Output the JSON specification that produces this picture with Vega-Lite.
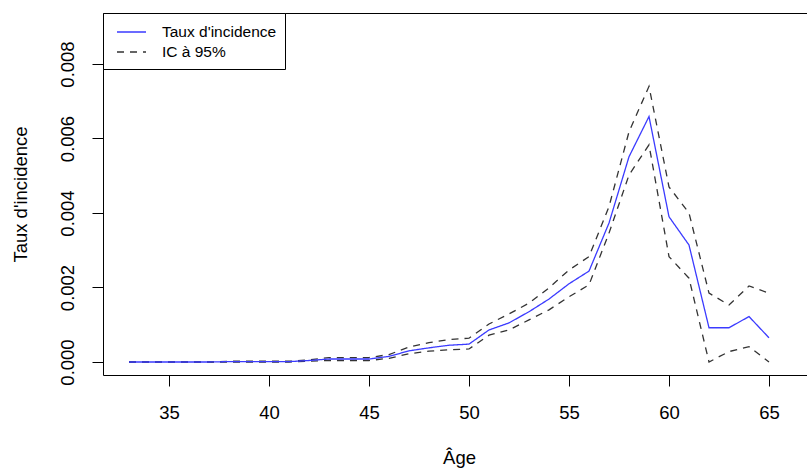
{
  "$schema": "https://vega.github.io/schema/vega-lite/v6.json",
  "autosize": {"type": "none"},
  "width": 706,
  "height": 362,
  "padding": {"left": 103, "top": 13, "right": 0, "bottom": 95},
  "background": "white",
  "config": {
    "font": "Liberation Sans",
    "view": {"stroke": "black", "strokeWidth": 1},
    "axis": {
      "domain": false,
      "grid": false,
      "tickColor": "black",
      "tickSize": 11,
      "tickWidth": 1,
      "labelColor": "black",
      "labelFont": "Liberation Sans",
      "labelFontSize": 18.5,
      "titleFont": "Liberation Sans",
      "titleFontSize": 18.5,
      "titleFontWeight": "normal",
      "titleColor": "black"
    }
  },
  "data": {
    "values": [
      {"age": 33, "taux": 0, "inf": 0, "sup": 0},
      {"age": 34, "taux": 0, "inf": 0, "sup": 0},
      {"age": 35, "taux": 0, "inf": 0, "sup": 0},
      {"age": 36, "taux": 0, "inf": 0, "sup": 0},
      {"age": 37, "taux": 0, "inf": 0, "sup": 0},
      {"age": 38, "taux": 0.00001, "inf": 0, "sup": 0.00002},
      {"age": 39, "taux": 0.00001, "inf": 0, "sup": 0.00002},
      {"age": 40, "taux": 0.00001, "inf": 0, "sup": 0.00002},
      {"age": 41, "taux": 0.00001, "inf": 0, "sup": 0.00002},
      {"age": 42, "taux": 0.00004, "inf": 0.00002, "sup": 0.00006},
      {"age": 43, "taux": 0.00008, "inf": 0.00004, "sup": 0.00012},
      {"age": 44, "taux": 0.00008, "inf": 0.00004, "sup": 0.00012},
      {"age": 45, "taux": 0.00008, "inf": 0.00004, "sup": 0.00012},
      {"age": 46, "taux": 0.00015, "inf": 0.0001, "sup": 0.0002},
      {"age": 47, "taux": 0.0003, "inf": 0.00022, "sup": 0.0004},
      {"age": 48, "taux": 0.00038, "inf": 0.00029, "sup": 0.00052},
      {"age": 49, "taux": 0.00045, "inf": 0.00033, "sup": 0.0006},
      {"age": 50, "taux": 0.00048, "inf": 0.00035, "sup": 0.00064},
      {"age": 51, "taux": 0.00086, "inf": 0.00072, "sup": 0.00102},
      {"age": 52, "taux": 0.00105, "inf": 0.00086, "sup": 0.00129},
      {"age": 53, "taux": 0.00135, "inf": 0.00113, "sup": 0.00158},
      {"age": 54, "taux": 0.00169, "inf": 0.0014, "sup": 0.00199},
      {"age": 55, "taux": 0.0021, "inf": 0.00175, "sup": 0.00247},
      {"age": 56, "taux": 0.00244, "inf": 0.00207, "sup": 0.00283},
      {"age": 57, "taux": 0.00373, "inf": 0.00346, "sup": 0.00417},
      {"age": 58, "taux": 0.00551, "inf": 0.00502, "sup": 0.00618},
      {"age": 59, "taux": 0.00659, "inf": 0.00583, "sup": 0.0074},
      {"age": 60, "taux": 0.0039, "inf": 0.00283, "sup": 0.0047},
      {"age": 61, "taux": 0.00314, "inf": 0.00225, "sup": 0.004},
      {"age": 62, "taux": 0.00092, "inf": 0.0, "sup": 0.00185},
      {"age": 63, "taux": 0.00092, "inf": 0.00028, "sup": 0.00153},
      {"age": 64, "taux": 0.00122, "inf": 0.00041, "sup": 0.00204},
      {"age": 65, "taux": 0.00065, "inf": 0.0, "sup": 0.00185}
    ]
  },
  "encoding": {
    "x": {
      "field": "age",
      "type": "quantitative",
      "scale": {"domain": [31.7, 67.0], "nice": false, "zero": false},
      "axis": {
        "title": "Âge",
        "values": [35, 40, 45, 50, 55, 60, 65],
        "labelPadding": 17,
        "titlePadding": 27,
        "titleX": 356,
        "labelFlush": false
      }
    }
  },
  "layer": [
    {
      "mark": {"type": "line", "strokeWidth": 1.3, "clip": true},
      "encoding": {
        "y": {
          "field": "sup",
          "type": "quantitative",
          "scale": {"domain": [-0.000349, 0.009369], "nice": false, "zero": false},
          "axis": {
            "title": "Taux d'incidence",
            "values": [0, 0.002, 0.004, 0.006, 0.008],
            "format": ".3f",
            "labelAngle": -90,
            "labelAlign": "center",
            "labelBaseline": "bottom",
            "labelPadding": 15,
            "titlePadding": 28,
            "labelFlush": false
          }
        },
        "color": {"datum": "IC à 95%"},
        "strokeDash": {"datum": "IC à 95%"}
      }
    },
    {
      "mark": {"type": "line", "strokeWidth": 1.3, "clip": true},
      "encoding": {
        "y": {"field": "inf", "type": "quantitative"},
        "color": {"datum": "IC à 95%"},
        "strokeDash": {"datum": "IC à 95%"}
      }
    },
    {
      "mark": {"type": "line", "strokeWidth": 1.3, "clip": true},
      "encoding": {
        "y": {"field": "taux", "type": "quantitative"},
        "color": {
          "datum": "Taux d'incidence",
          "scale": {"domain": ["Taux d'incidence", "IC à 95%"], "range": ["#3b3bff", "#333333"]},
          "legend": {
            "title": null,
            "orient": "none",
            "legendX": 0,
            "legendY": 0,
            "strokeColor": "black",
            "fillColor": "white",
            "padding": 8,
            "symbolType": "M-0.5,0H2.4",
            "symbolSize": 400,
            "symbolStrokeWidth": 1.4,
            "labelFont": "Liberation Sans",
            "labelFontSize": 15.5,
            "labelColor": "black",
            "labelOffset": 29,
            "rowPadding": 0,
            "cornerRadius": 0
          }
        },
        "strokeDash": {
          "datum": "Taux d'incidence",
          "scale": {"domain": ["Taux d'incidence", "IC à 95%"], "range": [[1, 0], [7, 6]]},
          "legend": {
            "title": null,
            "orient": "none",
            "legendX": 0,
            "legendY": 0,
            "strokeColor": "black",
            "fillColor": "white",
            "padding": 8,
            "symbolType": "M-0.5,0H2.4",
            "symbolSize": 400,
            "symbolStrokeWidth": 1.4,
            "labelFont": "Liberation Sans",
            "labelFontSize": 15.5,
            "labelColor": "black",
            "labelOffset": 29,
            "rowPadding": 0,
            "cornerRadius": 0
          }
        }
      }
    }
  ]
}
